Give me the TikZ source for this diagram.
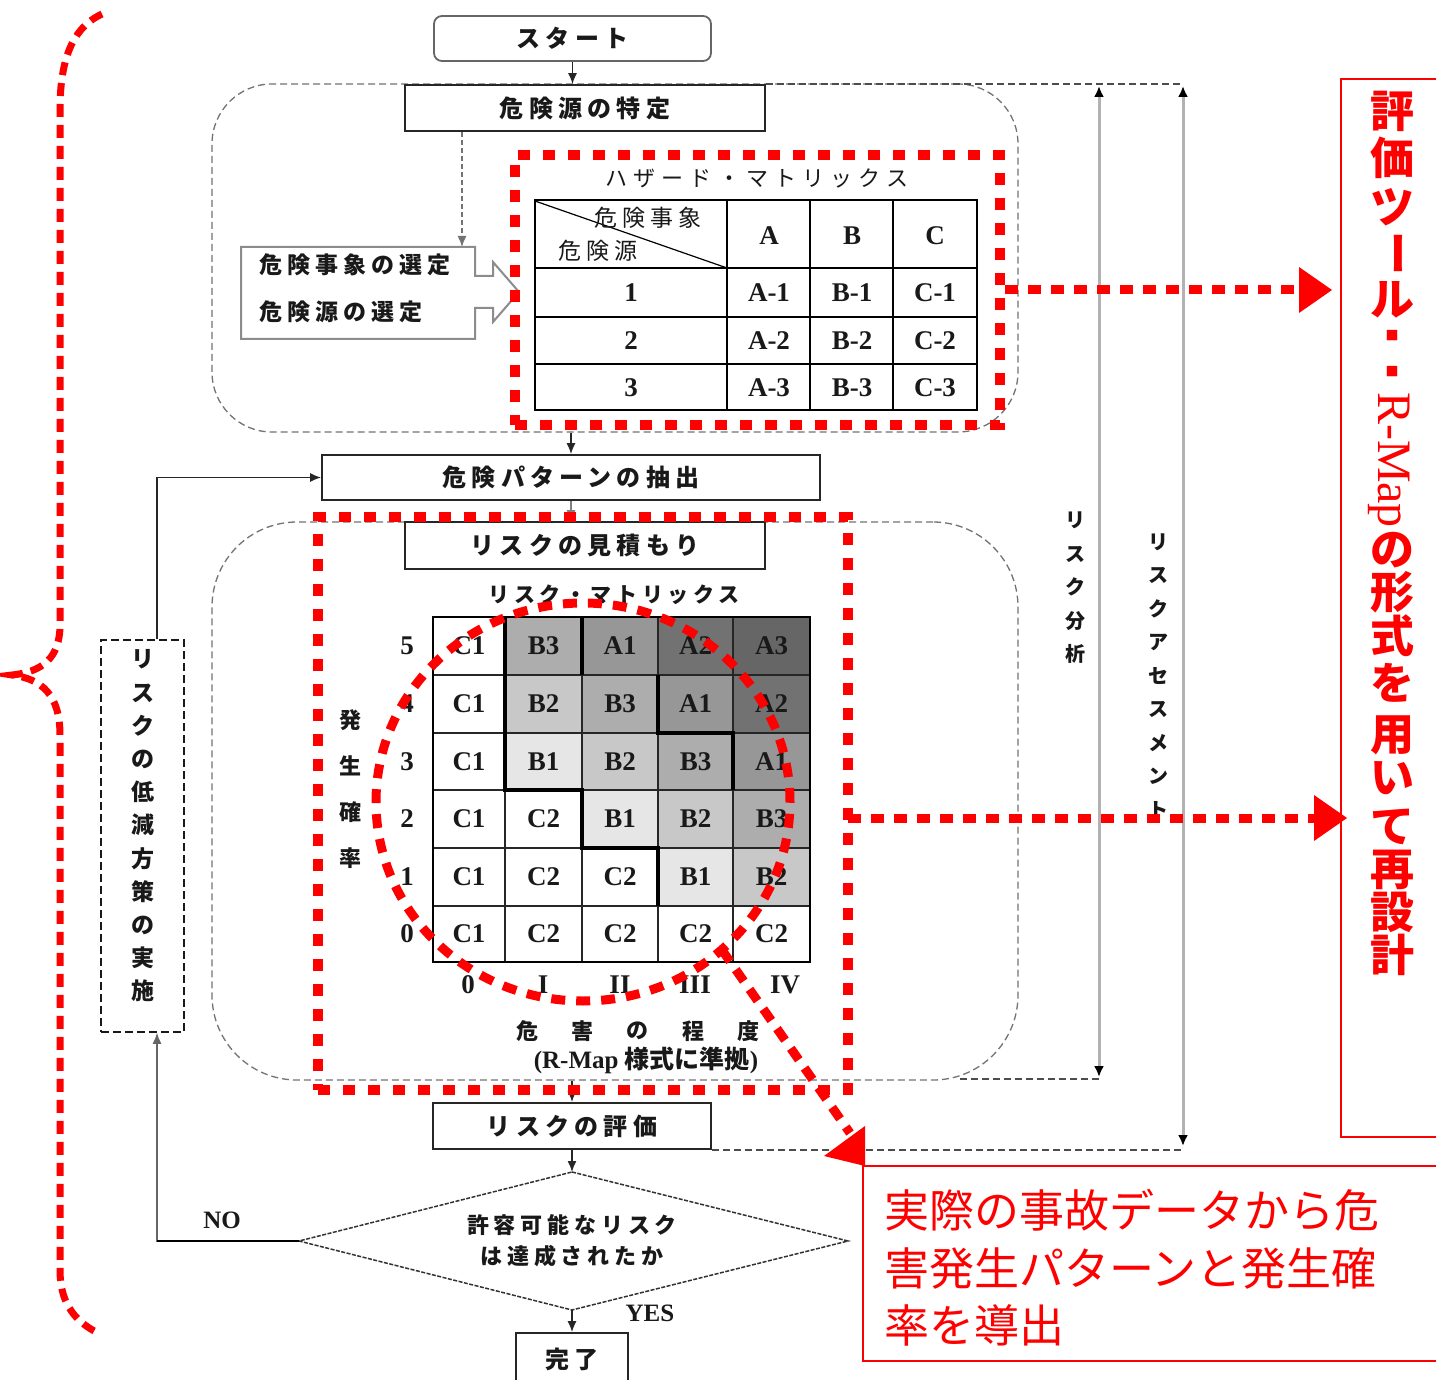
\documentclass[tikz,border=0pt]{standalone}
\usepackage{fontspec}
\setmainfont{Liberation Serif}
\newfontfamily\jp{Noto Sans CJK JP}
\newfontfamily\jpsp{Noto Sans CJK JP}[LetterSpace=22]
\usetikzlibrary{arrows.meta,calc}
\definecolor{rd}{HTML}{FF0000}
\definecolor{cA3}{HTML}{666666}
\definecolor{cA2}{HTML}{727272}
\definecolor{cA1}{HTML}{979797}
\definecolor{cB3}{HTML}{ADADAD}
\definecolor{cB2}{HTML}{C8C8C8}
\definecolor{cB1}{HTML}{E6E6E6}
\tikzset{
  region/.style={draw=black!55, line width=1.3pt, dash pattern=on 7pt off 4pt, inner sep=0pt},
  fbox/.style={draw=black!85, line width=1.8pt, fill=white, inner sep=0pt, text=black!90, font=\jpsp\bfseries\fontsize{24}{26}\selectfont},
  arr/.style={-{Latex[length=11pt,width=9pt]}, line width=1.4pt, draw=black!85},
  garrow/.style={{Latex[length=11pt,width=10pt,color=black]}-{Latex[length=11pt,width=10pt,color=black]}, draw=black!30, line width=3pt},
  gdash/.style={draw=black!70, line width=1.3pt, dash pattern=on 7pt off 4pt},
  reddot/.style={draw=rd, line width=10pt, dash pattern=on 12pt off 13pt},
  redarr/.style={draw=rd, line width=9pt, dash pattern=on 13pt off 10pt},
  redline/.style={draw=rd, line width=1.6pt},
  jtxt/.style={inner sep=0pt, text=black!90, font=\jpsp\fontsize{23}{26}\selectfont},
  jbold/.style={inner sep=0pt, text=black!90, font=\jpsp\bfseries\fontsize{22}{26}\selectfont},
  lat/.style={inner sep=0pt, text=black!90, font=\bfseries\fontsize{27}{27}\selectfont},
  cellt/.style={inner sep=0pt, text=black!90, font=\bfseries\fontsize{27}{27}\selectfont},
  vstack/.style={align=center, inner sep=0pt, text=black!90},
  redv/.style={inner sep=0pt, text=rd, font=\jp\bfseries\fontsize{44}{44}\selectfont},
  redh/.style={inner sep=0pt, text=rd, anchor=west, font=\jp\fontsize{45}{45}\selectfont},
}
\begin{document}
\begin{tikzpicture}[x=1pt,y=-1pt]
\useasboundingbox (0,0) rectangle (1436,1380);
\fill[white] (0,0) rectangle (1436,1380);

% ---------- dashed regions ----------
\node[region, rounded corners=60pt, minimum width=806pt, minimum height=348pt] (regA) at (615,258) {};
\node[region, rounded corners=85pt, minimum width=806pt, minimum height=558pt] (regB) at (615,801) {};

% ---------- flow boxes ----------
\node[fbox, rounded corners=8pt, draw=black!60, minimum width=277pt, minimum height=45pt] (start) at (572.5,38.5) {スタート};
\node[fbox, minimum width=360pt, minimum height=46pt] (hazid) at (585,108) {危険源の特定};
\node[fbox, minimum width=498pt, minimum height=45pt] (extract) at (571,477.5) {危険パターンの抽出};
\node[fbox, minimum width=360pt, minimum height=47pt] (estim) at (585,545.5) {リスクの見積もり};
\node[fbox, minimum width=278pt, minimum height=46pt] (eval) at (572,1126) {リスクの評価};
\node[fbox, minimum width=112pt, minimum height=52pt] (done) at (572,1359) {完了};

% grey dashed extension lines and double arrows
\coordinate (gaT) at (1099,86);
\coordinate (gaB) at (1099,1077);
\coordinate (gbT) at (1183,86);
\coordinate (gbB) at (1183,1146);
\draw[gdash] (hazid.north east) -- (hazid.north east -| gbT);
\draw[gdash] (960,1079) -- (gaB |- 0,1079);
\draw[gdash] (eval.south east) -- (eval.south east -| gbB);
\draw[garrow] (gaT) -- (gaB);
\draw[garrow] (gbT) -- (gbB);
\node[vstack, font=\jp\bfseries\fontsize{20}{33.5}\selectfont] (lblRA) at (1075,588) {リ\\ス\\ク\\分\\析};
\node[vstack, font=\jp\bfseries\fontsize{20}{33.5}\selectfont] (lblRAs) at (1158,676) {リ\\ス\\ク\\ア\\セ\\ス\\メ\\ン\\ト};

% arrows of main flow
\draw[arr] (start.south) -- (start.south |- hazid.north);
\coordinate (selTop) at (462,247);
\draw[arr, dash pattern=on 5pt off 3pt, draw=black!55] (hazid.south -| selTop) -- (selTop);
\draw[arr] (regA.south -| extract.north) -- (extract.north);
\draw[arr, draw=black!50] (extract.south) -- (extract.south |- estim.north);
\draw[arr] (regB.south -| eval.north) -- (eval.north);

% selection block arrow
\draw[draw=black!45, line width=2pt, fill=white] (241,247) -- (475,247) -- (475,276) -- (493,276) -- (493,262) -- (519,292) -- (493,322) -- (493,308) -- (475,308) -- (475,339) -- (241,339) -- cycle;
\node[jbold, anchor=west, font=\jpsp\bfseries\fontsize{23}{26}\selectfont] (sel1) at (259,265) {危険事象の選定};
\node[jbold, anchor=west, font=\jpsp\bfseries\fontsize{23}{26}\selectfont] (sel2) at (259,312) {危険源の選定};

% ---------- hazard matrix ----------
\node[jtxt, font=\jp\addfontfeature{LetterSpace=28}\fontsize{22}{26}\selectfont] (hztitle) at (757,178) {ハザード・マトリックス};
\draw[line width=1.8pt] (535,200) rectangle (977,410);
\foreach \x in {727,810,893} \draw[line width=1.8pt] (\x,200) -- (\x,410);
\foreach \y in {268,317,364} \draw[line width=1.8pt] (535,\y) -- (977,\y);
\draw[line width=1.2pt] (535,201) -- (727,268);
\node[jtxt] (hev) at (648,218) {危険事象};
\node[jtxt] (hsrc) at (598,251) {危険源};
\foreach \x/\t [count=\i] in {769/A,852/B,935/C} \node[lat] (hh\i) at (\x,236) {\t};
\foreach \y/\r in {293/1,341/2,388/3} {
  \node[lat] (hr\r) at (631,\y) {\r};
  \node[lat] (ha\r) at (769,\y) {A-\r};
  \node[lat] (hb\r) at (852,\y) {B-\r};
  \node[lat] (hc\r) at (935,\y) {C-\r};
}

% ---------- risk matrix ----------
\node[jbold, font=\jpsp\bfseries\fontsize{21}{26}\selectfont] (rmtitle) at (614,595) {リスク・マトリックス};
\foreach \xa/\xb/\t/\f [count=\i] in {433/505/C1/white,505/582/B3/cB3,582/658/A1/cA1,658/733/A2/cA2,733/810/A3/cA3}
  {\filldraw[fill=\f, draw=black!85, line width=1.2pt] (\xa,617) rectangle (\xb,675); \node[cellt] (m5\i) at ({(\xa+\xb)/2},646) {\t};}
\foreach \xa/\xb/\t/\f [count=\i] in {433/505/C1/white,505/582/B2/cB2,582/658/B3/cB3,658/733/A1/cA1,733/810/A2/cA2}
  {\filldraw[fill=\f, draw=black!85, line width=1.2pt] (\xa,675) rectangle (\xb,733); \node[cellt] (m4\i) at ({(\xa+\xb)/2},704) {\t};}
\foreach \xa/\xb/\t/\f [count=\i] in {433/505/C1/white,505/582/B1/cB1,582/658/B2/cB2,658/733/B3/cB3,733/810/A1/cA1}
  {\filldraw[fill=\f, draw=black!85, line width=1.2pt] (\xa,733) rectangle (\xb,790); \node[cellt] (m3\i) at ({(\xa+\xb)/2},762) {\t};}
\foreach \xa/\xb/\t/\f [count=\i] in {433/505/C1/white,505/582/C2/white,582/658/B1/cB1,658/733/B2/cB2,733/810/B3/cB3}
  {\filldraw[fill=\f, draw=black!85, line width=1.2pt] (\xa,790) rectangle (\xb,848); \node[cellt] (m2\i) at ({(\xa+\xb)/2},819) {\t};}
\foreach \xa/\xb/\t/\f [count=\i] in {433/505/C1/white,505/582/C2/white,582/658/C2/white,658/733/B1/cB1,733/810/B2/cB2}
  {\filldraw[fill=\f, draw=black!85, line width=1.2pt] (\xa,848) rectangle (\xb,906); \node[cellt] (m1\i) at ({(\xa+\xb)/2},877) {\t};}
\foreach \xa/\xb/\t/\f [count=\i] in {433/505/C1/white,505/582/C2/white,582/658/C2/white,658/733/C2/white,733/810/C2/white}
  {\filldraw[fill=\f, draw=black!85, line width=1.2pt] (\xa,906) rectangle (\xb,962); \node[cellt] (m0\i) at ({(\xa+\xb)/2},934) {\t};}
\draw[line width=2pt] (433,617) rectangle (810,962);
\draw[line width=3.5pt] (505,617) -- (505,790) -- (582,790) -- (582,848) -- (658,848) -- (658,906);
\draw[line width=3.5pt] (582,617) -- (582,675);
\draw[line width=3.5pt] (658,675) -- (658,733) -- (733,733) -- (733,790);
\foreach \y/\r in {646/5,704/4,762/3,819/2,877/1,934/0} \node[lat] (rl\r) at (407,\y) {\r};
\foreach \x/\t [count=\i] in {468/0,543/I,620/II,695/III,785/IV} \node[lat] (cl\i) at (\x,985) {\t};
\node[vstack, font=\jp\bfseries\fontsize{22}{46}\selectfont] (prob) at (350,789) {発\\生\\確\\率};
\foreach \x/\t [count=\i] in {527/危,582/害,637/の,693/程,748/度} \node[jbold] (sev\i) at (\x,1031) {\t};
\node[inner sep=0pt, text=black!90, font=\bfseries\fontsize{25}{26}\selectfont] (rmap) at (646,1060) {(R-Map {\jp 様式に準拠})};

% ---------- decision ----------
\coordinate (dT) at (572,1172);
\coordinate (dR) at (848,1241);
\coordinate (dB) at (572,1310);
\coordinate (dL) at (299,1241);
\draw[draw=black!80, line width=1.5pt, dash pattern=on 4pt off 1.5pt, fill=white] (dT) -- (dR) -- (dB) -- (dL) -- cycle;
\node[vstack, font=\jpsp\bfseries\fontsize{22}{31}\selectfont] (dq) at (572,1241) {許容可能なリスク\\は達成されたか};
\draw[arr] (eval.south) -- (dT);
\draw[arr] (dB) -- (done.north);
\node[lat, font=\bfseries\fontsize{25}{25}\selectfont] (yes) at (650,1313) {YES};
\node[lat, font=\bfseries\fontsize{25}{25}\selectfont] (no) at (222,1220) {NO};

% ---------- risk reduction ----------
\node[draw=black!90, line width=1.5pt, dash pattern=on 8pt off 4pt, minimum width=83pt, minimum height=392pt, inner sep=0pt] (redu) at (142.5,836) {};
\node[vstack, font=\jp\bfseries\fontsize{23}{33.2}\selectfont] (redutxt) at (143,826) {リ\\ス\\ク\\の\\低\\減\\方\\策\\の\\実\\施};
\draw[arr, draw=black!60] (dL) -| ([xshift=14.5pt]redu.south);
\draw[line width=1.5pt] (dL) -- (157,1241);
\draw[arr] ([xshift=14.5pt]redu.north) |- (extract.west);

% ---------- red annotations ----------
\node[reddot, minimum width=485pt, minimum height=270pt, inner sep=0pt] (hzbox) at (757.5,290) {};
\node[reddot, minimum width=530pt, minimum height=573pt, inner sep=0pt] (rkbox) at (583,803.5) {};
\draw[draw=rd, line width=9pt, dash pattern=on 14pt off 11pt] (583,802) ellipse [x radius=207pt, y radius=199pt];

\node[redline, minimum width=110pt, minimum height=1058pt, inner sep=0pt, anchor=north west] (tool) at (1340,78) {};
\node[redline, minimum width=590pt, minimum height=195pt, inner sep=0pt, anchor=north west] (accbox) at (862,1165) {};

\draw[redarr] (hzbox.east) -- (1302,290);
\fill[rd] (1332,290) -- (1299,267) -- (1299,313) -- cycle;
\coordinate (rk2) at (848,818);
\draw[redarr] (rk2) -- (1317,818);
\fill[rd] (1347,818) -- (1314,795) -- (1314,841) -- cycle;
\draw[draw=rd, line width=9pt, dash pattern=on 14pt off 10pt] (722,950) -- (850,1133);
\fill[rd] (824,1156) -- (865,1126) -- (865,1166) -- cycle;

% vertical red text
\foreach \c/\y [count=\i] in {評/111,価/158,ツ/207,ル/300,の/550,形/592,式/636,を/683,用/735,い/778,て/827,再/870,設/912,計/955}
  \node[redv] (rv\i) at (1392,\y) {\c};
\node[redv] (rvbar) at (1392,254) {\rotatebox[origin=c]{-90}{ー}};
\node[inner sep=0pt, text=rd, font=\jp\bfseries\fontsize{13}{13}\selectfont] (rvd1) at (1392,336) {■};
\node[inner sep=0pt, text=rd, font=\jp\bfseries\fontsize{13}{13}\selectfont] (rvd2) at (1392,372) {■};
\node[inner sep=0pt, text=rd, rotate=-90, font=\fontsize{48}{48}\selectfont] (rvmap) at (1389,460) {R-Map};

% bottom red text
\node[redh] (acc1) at (884,1210) {実際の事故データから危};
\node[redh] (acc2) at (884,1268) {害発生パターンと発生確};
\node[redh] (acc3) at (884,1325) {率を導出};

% left red brace
\draw[draw=rd, line width=7pt, dash pattern=on 13pt off 8pt]
  (102,14) .. controls (72,28) and (60,60) .. (60,110) -- (60,625)
  .. controls (60,658) and (42,672) .. (12,675)
  .. controls (42,679) and (60,695) .. (60,735) -- (60,1270)
  .. controls (60,1300) and (72,1320) .. (98,1333);
\end{tikzpicture}
\end{document}
